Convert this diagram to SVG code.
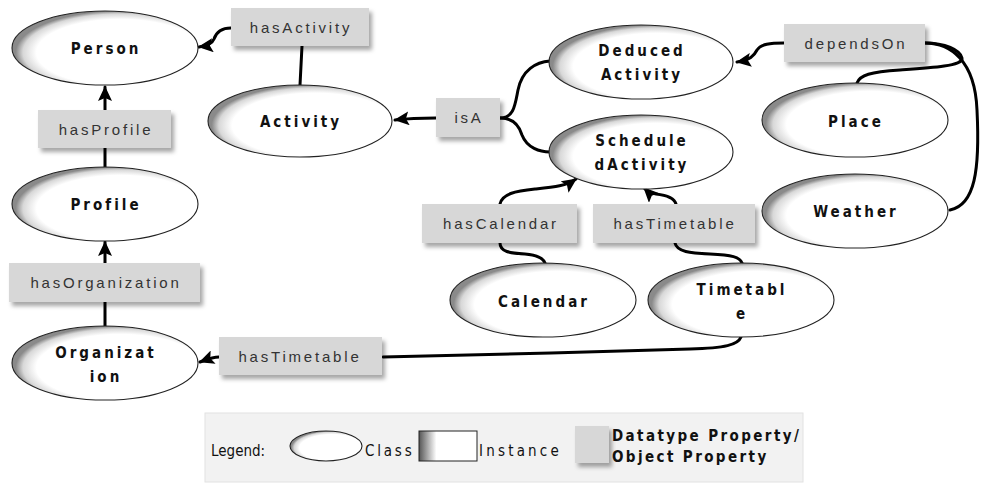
<svg xmlns="http://www.w3.org/2000/svg" width="984" height="484" viewBox="0 0 984 484">
<defs>
  <radialGradient id="eg" cx="58%" cy="56%" r="56%">
    <stop offset="0" stop-color="#ffffff"/>
    <stop offset="0.8" stop-color="#ffffff"/>
    <stop offset="0.93" stop-color="#d8d8d8"/>
    <stop offset="1" stop-color="#8a8a8a"/>
  </radialGradient>
  <linearGradient id="ig" x1="0" y1="0" x2="1" y2="0">
    <stop offset="0" stop-color="#555"/>
    <stop offset="0.3" stop-color="#fff"/>
    <stop offset="1" stop-color="#fff"/>
  </linearGradient>
  <filter id="sh" x="-10%" y="-20%" width="130%" height="160%">
    <feDropShadow dx="3" dy="4" stdDeviation="2" flood-color="#000" flood-opacity="0.35"/>
  </filter>
  <marker id="ah" markerUnits="userSpaceOnUse" markerWidth="16" markerHeight="14" refX="14" refY="7" orient="auto">
    <path d="M0,0 L15,7 L0,14 L3,7 z" fill="#000"/>
  </marker>
  <style>
    .cls{fill:url(#eg);stroke:#222;stroke-width:1.1}
    .prop{fill:#d7d7d7;filter:url(#sh)}
    .nt{font-family:"DejaVu Sans Condensed","DejaVu Sans",sans-serif;font-stretch:condensed;font-weight:bold;font-size:15px;letter-spacing:3px;fill:#111;text-anchor:middle}
    .pt{font-family:"Liberation Sans",Arial,sans-serif;font-size:15px;letter-spacing:2.8px;fill:#333;text-anchor:middle}
    .ln{fill:none;stroke:#000;stroke-width:3;stroke-linecap:round}
    .arr{marker-end:url(#ah)}
    .lg{font-family:"DejaVu Sans Condensed","DejaVu Sans",sans-serif;font-stretch:condensed;font-size:15px;fill:#111}
  </style>
</defs>
<rect width="984" height="484" fill="#fff"/>

<g id="connectors">
  <path class="ln arr" d="M231,28 C220,28 216,33 214,39 C212,44 207,46 199,47"/>
  <path class="ln" d="M302,46 L300,85"/>
  <path class="ln arr" d="M105,110 L105,87"/>
  <path class="ln" d="M105,148 L105,167"/>
  <path class="ln arr" d="M105,263 L105,242"/>
  <path class="ln" d="M105,302 L105,327"/>
  <path class="ln arr" d="M219,357 C212,357 208,359 200,362"/>
  <path class="ln" d="M741,337 C738,345 725,348 690,349 C600,352 460,355 383,357"/>
  <path class="ln arr" d="M436,118 C425,118 412,118 395,120"/>
  <path class="ln" d="M500,118 C514,118 515,105 518,90 C522,70 536,62 550,61"/>
  <path class="ln" d="M500,118 C512,118 519,125 522,135 C527,148 540,152 550,152"/>
  <path class="ln arr" d="M500,204 C502,194 515,191 535,189 C555,187 566,186 576,179"/>
  <path class="ln arr" d="M676,204 C674,197 665,195 656,194 C650,193 647,191 644,188"/>
  <path class="ln" d="M500,243 C500,252 510,253 525,254 C538,255 543,258 545,263"/>
  <path class="ln" d="M675,243 C677,252 690,253 710,254 C732,255 740,257 742,263"/>
  <path class="ln arr" d="M784,43 C770,43 761,44 757,50 C754,56 750,60 737,62"/>
  <path class="ln" d="M925,43 C945,43 960,50 962,58 C964,66 930,68 900,70 C870,72 860,75 857,83"/>
  <path class="ln" d="M925,43 C950,43 975,60 977,110 C980,170 975,205 950,210"/>
</g>

<g id="person"><ellipse class="cls" cx="105" cy="48" rx="93" ry="37"/><text class="nt" x="106" y="54">Person</text></g>
<g id="activity"><ellipse class="cls" cx="300" cy="121" rx="92" ry="36"/><text class="nt" x="301" y="127">Activity</text></g>
<g id="profile"><ellipse class="cls" cx="105" cy="204" rx="93" ry="37"/><text class="nt" x="106" y="210">Profile</text></g>
<g id="organization"><ellipse class="cls" cx="105" cy="363" rx="93" ry="37"/><text class="nt" x="106" y="358">Organizat</text><text class="nt" x="106" y="382">ion</text></g>
<g id="deducedactivity"><ellipse class="cls" cx="641" cy="62" rx="92" ry="37"/><text class="nt" x="642" y="56">Deduced</text><text class="nt" x="642" y="80">Activity</text></g>
<g id="scheduledactivity"><ellipse class="cls" cx="641" cy="152" rx="92" ry="37"/><text class="nt" x="642" y="146">Schedule</text><text class="nt" x="642" y="170">dActivity</text></g>
<g id="place"><ellipse class="cls" cx="855" cy="120" rx="93" ry="37"/><text class="nt" x="856" y="127">Place</text></g>
<g id="weather"><ellipse class="cls" cx="855" cy="211" rx="93" ry="37"/><text class="nt" x="856" y="217">Weather</text></g>
<g id="calendar"><ellipse class="cls" cx="543" cy="300" rx="93" ry="37"/><text class="nt" x="544" y="307">Calendar</text></g>
<g id="timetable"><ellipse class="cls" cx="741" cy="300" rx="93" ry="37"/><text class="nt" x="742" y="295">Timetabl</text><text class="nt" x="742" y="319">e</text></g>

<g id="prop-hasActivity"><rect class="prop" x="231" y="8" width="138" height="38"/><text class="pt" x="301" y="33">hasActivity</text></g>
<g id="prop-hasProfile"><rect class="prop" x="38" y="110" width="133" height="38"/><text class="pt" x="106" y="135">hasProfile</text></g>
<g id="prop-hasOrganization"><rect class="prop" x="9" y="263" width="191" height="39"/><text class="pt" x="106" y="288">hasOrganization</text></g>
<g id="prop-hasTimetable-org"><rect class="prop" x="219" y="337" width="163" height="38"/><text class="pt" x="300" y="362">hasTimetable</text></g>
<g id="prop-isA"><rect class="prop" x="436" y="98" width="64" height="39"/><text class="pt" x="469" y="123">isA</text></g>
<g id="prop-hasCalendar"><rect class="prop" x="422" y="204" width="155" height="39"/><text class="pt" x="501" y="229">hasCalendar</text></g>
<g id="prop-hasTimetable"><rect class="prop" x="593" y="204" width="162" height="39"/><text class="pt" x="675" y="229">hasTimetable</text></g>
<g id="prop-dependsOn"><rect class="prop" x="784" y="24" width="141" height="38"/><text class="pt" x="856" y="49">dependsOn</text></g>

<g id="legend">
  <rect x="205" y="413" width="598" height="69" fill="#f2f2f2" stroke="#e2e2e2"/>
  <text class="lg" x="211" y="456">Legend:</text>
  <ellipse class="cls" cx="326" cy="446" rx="36" ry="15"/>
  <text class="lg" x="365" y="456" letter-spacing="2.8">Class</text>
  <rect x="419" y="431" width="58" height="30" fill="url(#ig)" stroke="#222"/>
  <text class="lg" x="479" y="456" letter-spacing="3.2">Instance</text>
  <rect class="prop" x="575" y="426" width="34" height="37"/>
  <text class="lg" x="612" y="441" font-weight="bold" letter-spacing="2.4">Datatype Property/</text>
  <text class="lg" x="612" y="462" font-weight="bold" letter-spacing="2.4">Object Property</text>
</g>
</svg>
